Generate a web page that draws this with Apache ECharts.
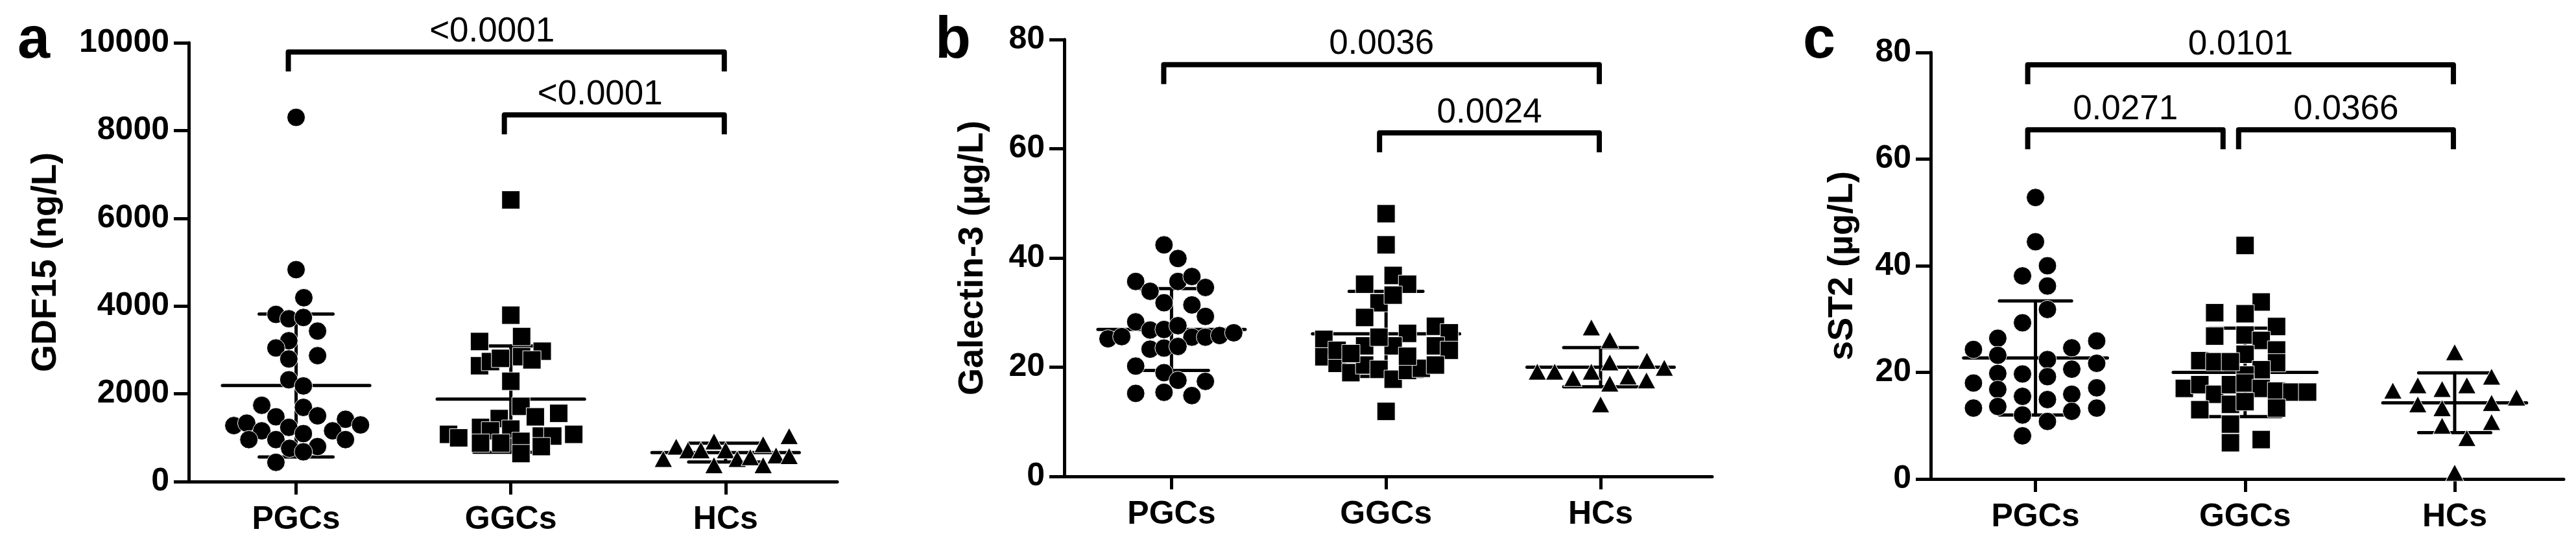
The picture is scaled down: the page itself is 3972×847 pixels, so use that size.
<!DOCTYPE html>
<html><head><meta charset="utf-8">
<script src="https://cdn.jsdelivr.net/npm/echarts@6/dist/echarts.min.js"></script>
<style>html,body{margin:0;padding:0;background:#fff}#chart{width:3972px;height:847px}</style>
</head><body><div id="chart"></div>
<script>
// ---------- shared ----------
const categories = ['PGCs', 'GGCs', 'HCs'];
const yTitles = ['GDF15 (ng/L)', 'Galectin-3 (\u00b5g/L)', 'sST2 (\u00b5g/L)'];
const panelLetters = ['a', 'b', 'c'];
const yMax = [10000, 80, 80];
const yInterval = [2000, 20, 20];

// ---------- panel a : GDF15 ----------
const aPGCs  = [8300,4830,4190,3810,3710,3740,3430,3210,3045,2870,2795,2320,2180,1739,1691,1476,1499,1420,1276,1332,1292,1157,1236,1093,1157,957,957,957,758,798,678,439];
const aPGCsX = [0,0,0.036,-0.094,-0.034,0.034,0.10,-0.034,-0.094,0.10,-0.034,-0.034,0.034,-0.16,0.034,-0.094,0.10,0.23,-0.29,-0.23,0.30,-0.16,-0.034,0.034,0.17,-0.22,-0.094,0.23,-0.03,0.10,0.034,-0.094];
const aGGCs  = [6420,3793,3192,3306,2971,2641,2734,2808,2848,2774,2287,1715,1476,1555,1436,1236,1077,997,1157,1196,1037,1037,1077,877,877,917,798,638];
const aGGCsX = [0,0,-0.146,0.05,0.146,-0.146,-0.095,-0.048,0.05,0.098,0,0.047,0.114,0.223,-0.054,-0.141,-0.29,-0.243,-0.095,0,0.142,0.195,0.293,-0.141,-0.047,0.047,0.142,0.047];
const aHCs   = [518,798,718,718,917,718,518,558,854,598,1037,582,375,375];
const aHCsX  = [-0.29,-0.23,-0.175,-0.115,-0.054,0,0.054,0.115,0.175,0.235,0.296,0.296,-0.054,0.175];
const aMean  = [2190, 1880, 660];
const aSD    = [1630, 1210, 215];
const aBracketFrom = [0, 1];
const aBracketTo   = [2, 2];
const aBracketY    = [9790, 8357];
const aBracketText = ['<0.0001', '<0.0001'];

// ---------- panel b : Galectin-3 ----------
const bPGCs  = [42.4,39.9,35.7,33.9,35.7,36.6,34.6,31.8,31.4,29.3,28.3,26.8,26.9,27.6,25.2,25.6,25.5,25.5,25.8,26.3,23.3,23.5,23.8,20.2,19.0,17.6,17.4,15.2,15.4,14.8];
const bPGCsX = [-0.035,0.03,-0.167,-0.10,0.03,0.095,0.158,-0.035,0.095,0.158,-0.167,-0.10,-0.035,0.03,-0.296,-0.232,0.095,0.158,0.224,0.29,-0.10,-0.035,0.03,-0.167,-0.035,0.03,0.158,-0.167,-0.035,0.095];
const bGGCs  = [48.1,42.4,36.8,35.2,35.2,31.8,33.2,29.1,25.1,26.2,27.5,26.3,23.9,23.9,23.9,23.1,21.9,20.7,19.0,20.4,19.6,17.8,19.4,19.8,20.4,23.1,11.9,22.0,25.5,22.5];
const bGGCsX = [0,0,0.033,-0.10,0.10,-0.033,0.033,-0.10,-0.29,0.10,0.23,0.295,-0.10,0.033,0.23,0.295,-0.29,-0.228,-0.164,-0.10,-0.033,0.033,0.10,0.164,0.23,-0.228,0,0.10,-0.033,-0.164];
const bHCs   = [27.3,25.0,20.9,19.2,19.2,18.0,19.2,17.0,18.3,21.2,17.6,19.9,13.2];
const bHCsX  = [-0.043,0.043,0.043,-0.295,-0.214,-0.129,-0.043,0.043,0.128,0.216,0.214,0.297,0];
const bMean  = [26.9, 26.1, 20.0];
const bSD    = [7.5, 7.8, 3.6];
const bBracketFrom = [0, 1];
const bBracketTo   = [2, 2];
const bBracketY    = [75.4, 62.9];
const bBracketText = ['0.0036', '0.0024'];

// ---------- panel c : sST2 ----------
const cPGCs  = [52.8,44.5,38.1,40.0,36.2,31.8,29.3,26.4,24.3,23.2,22.4,24.6,25.9,21.7,20.6,19.8,19.7,19.2,18.0,17.1,16.8,15.5,14.9,15.9,13.3,13.6,12.0,10.8,12.7,13.3,8.1];
const cPGCsX = [0,0,-0.062,0.057,0.057,0.057,-0.062,-0.18,-0.296,-0.18,0.057,0.173,0.292,0.292,0.173,-0.18,-0.062,0.057,-0.296,0.292,-0.18,-0.062,0.057,0.173,-0.296,-0.18,-0.062,0.057,0.173,0.292,-0.062];
const cGGCs  = [43.8,33.2,31.2,31.0,28.6,26.8,27.0,26.0,24.2,23.4,22.2,22.0,21.8,20.5,19.5,17.0,17.7,15.9,17.7,18.0,17.0,16.5,16.3,16.3,13.0,14.0,13.3,10.3,6.8,7.4,14.5,22.0];
const cGGCsX = [0,0.077,-0.145,0,0.15,-0.145,0,0.077,0.15,0,-0.216,-0.145,0.15,0.077,0,-0.29,-0.216,-0.145,-0.07,0,0.077,0.15,0.223,0.298,-0.216,-0.07,0.15,-0.07,-0.07,0.077,0,-0.07];
const cHCs   = [23.8,19.2,17.6,16.9,17.6,16.6,15.3,14.3,14.0,13.3,10.7,10.0,7.7,1.2];
const cHCsX  = [0,0.176,-0.176,-0.06,0.058,-0.295,0.295,0.176,-0.176,-0.06,0.176,-0.06,0.058,0];
const cMean  = [22.7, 20.0, 14.3];
const cSD    = [10.7, 8.3, 5.6];
const cBracketFrom = [0, 0, 1];
const cBracketTo   = [2, 1, 2];
const cBracketY    = [77.7, 65.5, 65.5];
const cBracketText = ['0.0101', '0.0271', '0.0366'];

// ---------- build ----------
const FONT = '"Liberation Sans", Arial, Helvetica, sans-serif';
const panels = [
  {groups:[[aPGCs,aPGCsX],[aGGCs,aGGCsX],[aHCs,aHCsX]], mean:aMean, sd:aSD, bf:aBracketFrom, bt:aBracketTo, by:aBracketY, bl:aBracketText,
   grid:{left:291, top:66, width:1000, height:677}, nameGap:193, letterX:27},
  {groups:[[bPGCs,bPGCsX],[bGGCs,bGGCsX],[bHCs,bHCsX]], mean:bMean, sd:bSD, bf:bBracketFrom, bt:bBracketTo, by:bBracketY, bl:bBracketText,
   grid:{left:1641, top:61, width:999, height:674}, nameGap:114, letterX:1442},
  {groups:[[cPGCs,cPGCsX],[cGGCs,cGGCsX],[cHCs,cHCsX]], mean:cMean, sd:cSD, bf:cBracketFrom, bt:cBracketTo, by:cBracketY, bl:cBracketText,
   grid:{left:2977, top:81, width:976, height:658}, nameGap:109, letterX:2780}
];
const symbols = ['circle', 'rect', 'triangle'];
const symbolSizes = [28, 28, [28, 26]];

const grids = [], xAxes = [], yAxes = [], series = [], graphics = [];
panels.forEach((p, i) => {
  grids.push(Object.assign({containLabel:false}, p.grid));
  xAxes.push({
    type:'value', gridIndex:i, min:-0.5, max:2.52,
    splitLine:{show:false},
    axisLine:{show:true, onZero:false, lineStyle:{color:'#000', width:5}},
    axisTick:{show:true, customValues:[0,1,2], length:20, lineStyle:{color:'#000', width:5}},
    axisLabel:{show:true, customValues:[0,1,2], formatter:v => categories[Math.round(v)] || '',
      color:'#000', fontSize:50, fontWeight:'bold', fontFamily:FONT, margin:34}
  });
  yAxes.push({
    type:'value', gridIndex:i, min:0, max:yMax[i], interval:yInterval[i],
    splitLine:{show:false},
    axisLine:{show:true, onZero:false, lineStyle:{color:'#000', width:5}},
    axisTick:{show:true, length:23, lineStyle:{color:'#000', width:5}},
    axisLabel:{color:'#000', fontSize:50, fontWeight:'bold', fontFamily:FONT, margin:30, formatter:v => String(v)},
    name:yTitles[i], nameLocation:'middle', nameGap:p.nameGap,
    nameTextStyle:{color:'#000', fontSize:54, fontWeight:'bold', fontFamily:FONT}
  });
  // error bars (mean ± SD)
  series.push({
    type:'custom', xAxisIndex:i, yAxisIndex:i, z:3, clip:false, silent:true,
    data:p.mean.map((m, g) => [g, m, p.sd[g]]),
    renderItem:(params, api) => {
      const g = api.value(0), m = api.value(1), s = api.value(2);
      const c = api.coord([g, m]), up = api.coord([g, m + s]), lo = api.coord([g, Math.max(m - s, 0)]);
      const w1 = api.size([0.343, 0])[0], w2 = api.size([0.172, 0])[0];
      const st = {stroke:'#000', lineWidth:5, lineCap:'round'};
      return {type:'group', children:[
        {type:'line', shape:{x1:c[0]-w1, y1:c[1], x2:c[0]+w1, y2:c[1]}, style:st},
        {type:'line', shape:{x1:c[0], y1:up[1], x2:c[0], y2:lo[1]}, style:st},
        {type:'line', shape:{x1:c[0]-w2, y1:up[1], x2:c[0]+w2, y2:up[1]}, style:st},
        {type:'line', shape:{x1:c[0]-w2, y1:lo[1], x2:c[0]+w2, y2:lo[1]}, style:st}
      ]};
    }
  });
  // points
  p.groups.forEach((gr, g) => {
    series.push({
      type:'scatter', xAxisIndex:i, yAxisIndex:i, z:4, silent:true,
      symbol:symbols[g], symbolSize:symbolSizes[g],
      itemStyle:{color:'#000', borderColor:'#fff', borderWidth:1, opacity:1},
      data:gr[0].map((v, k) => [g + gr[1][k], v])
    });
  });
  // significance brackets
  series.push({
    type:'custom', xAxisIndex:i, yAxisIndex:i, z:5, clip:false, silent:true,
    data:p.by.map((y, k) => [p.bf[k], p.bt[k], y]),
    renderItem:(params, api) => {
      const f = api.value(0), t = api.value(1), y = api.value(2);
      const p1 = api.coord([f, y]), p2 = api.coord([t, y]);
      const x1 = p1[0] + (f === 0 ? -12 : -10);
      const x2 = p2[0] - (t === 2 ? 2 : 34);
      const yy = p1[1], leg = 30;
      const txt = p.bl[params.dataIndex];
      const shift = txt.charAt(0) === '<' ? -22 : 0;
      return {type:'group', children:[
        {type:'polyline', shape:{points:[[x1, yy+leg],[x1, yy],[x2, yy],[x2, yy+leg]]},
         style:{stroke:'#000', lineWidth:8, fill:null, lineJoin:'round'}},
        {type:'text', x:(x1+x2)/2 + shift, y:yy-31,
         style:{text:txt, fill:'#000', font:'53px ' + FONT,
                align:'center', verticalAlign:'middle', textAlign:'center', textVerticalAlign:'middle'}}
      ]};
    }
  });
  graphics.push({type:'text', x:p.letterX, y:64,
    style:{text:panelLetters[i], fill:'#000', font:'bold 90px ' + FONT, align:'left', verticalAlign:'middle'}});
});

const chart = echarts.init(document.getElementById('chart'), null, {renderer:'canvas'});
chart.setOption({
  backgroundColor:'#fff', animation:false,
  grid:grids, xAxis:xAxes, yAxis:yAxes, series:series, graphic:graphics
});
</script></body></html>
